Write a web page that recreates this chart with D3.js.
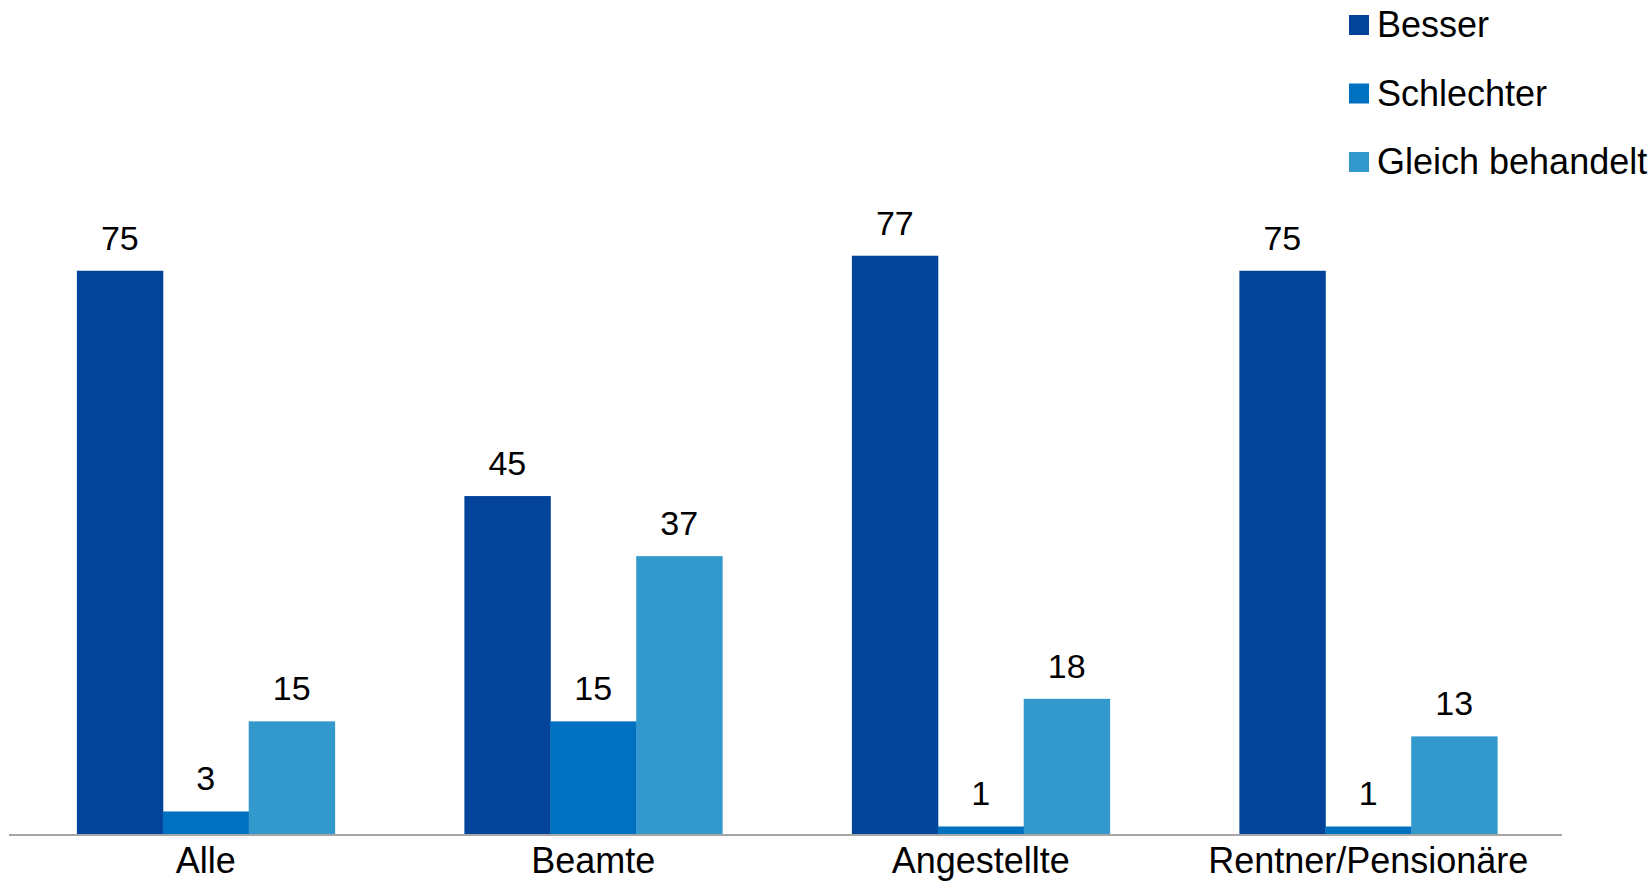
<!DOCTYPE html>
<html>
<head>
<meta charset="utf-8">
<script src="https://cdn.jsdelivr.net/npm/d3@7/dist/d3.min.js"></script>
<style>
  html, body { margin: 0; padding: 0; background: #fff; }
  svg { display: block; font-family: "Liberation Sans", Arial, sans-serif; }
</style>
</head>
<body>
<svg id="chart" width="1652" height="882"></svg>
<script>
const categories = ["Alle", "Beamte", "Angestellte", "Rentner/Pensionäre"];
const seriesNames = ["Besser", "Schlechter", "Gleich behandelt"];
const besser = [75, 45, 77, 75];
const schlechter = [3, 15, 1, 1];
const gleich = [15, 37, 18, 13];
const seriesColors = ["#03449A", "#0070C0", "#3399CC"];

const seriesValues = [besser, schlechter, gleich];
const data = categories.map((c, i) => ({
  cat: c,
  vals: seriesNames.map((s, j) => ({ key: s, value: seriesValues[j][i], color: seriesColors[j] }))
}));

const svg = d3.select("#chart");
const baseY = 834;

const x0 = d3.scaleBand().domain(categories).range([12, 1562]).paddingInner(0).paddingOuter(0);
const x1 = d3.scaleBand().domain(seriesNames).range([0, x0.bandwidth()]).paddingInner(0).paddingOuter(0.755);
const y = d3.scaleLinear().domain([0, 100]).range([baseY, 83]);

const groups = svg.append("g").selectAll("g")
  .data(data).join("g")
  .attr("transform", d => `translate(${x0(d.cat)},0)`);

groups.selectAll("rect")
  .data(d => d.vals).join("rect")
  .attr("x", d => x1(d.key))
  .attr("width", x1.bandwidth() + 0.5)
  .attr("y", d => y(d.value))
  .attr("height", d => baseY - y(d.value))
  .attr("fill", d => d.color);

groups.selectAll("text.val")
  .data(d => d.vals).join("text")
  .attr("class", "val")
  .attr("x", d => x1(d.key) + x1.bandwidth() / 2)
  .attr("y", d => y(d.value) - 21)
  .attr("text-anchor", "middle")
  .attr("font-size", 34)
  .attr("fill", "#000")
  .text(d => d.value);

// axis baseline
svg.append("line")
  .attr("x1", 9).attr("x2", 1562)
  .attr("y1", baseY + 1).attr("y2", baseY + 1)
  .attr("stroke", "#A6A6A6").attr("stroke-width", 2);

// category axis labels
const xAxis = d3.axisBottom(x0).tickSize(0).tickPadding(0);
const ax = svg.append("g").attr("transform", `translate(0,${baseY})`).call(xAxis);
ax.select(".domain").remove();
ax.selectAll("text")
  .attr("font-size", 36)
  .attr("font-family", "'Liberation Sans', Arial, sans-serif")
  .attr("fill", "#000")
  .attr("dy", null)
  .attr("y", 39);

// legend
const legendY = d3.scalePoint().domain(seriesNames).range([25, 162]);
const legend = svg.append("g").selectAll("g")
  .data(seriesNames).join("g")
  .attr("transform", d => `translate(1349,${legendY(d)})`);
legend.append("rect")
  .attr("x", 0).attr("y", -10).attr("width", 20).attr("height", 20)
  .attr("fill", (d, i) => seriesColors[i]);
legend.append("text")
  .attr("x", 28).attr("y", 12)
  .attr("font-size", 36)
  .attr("fill", "#000")
  .text(d => d);
</script>
</body>
</html>
